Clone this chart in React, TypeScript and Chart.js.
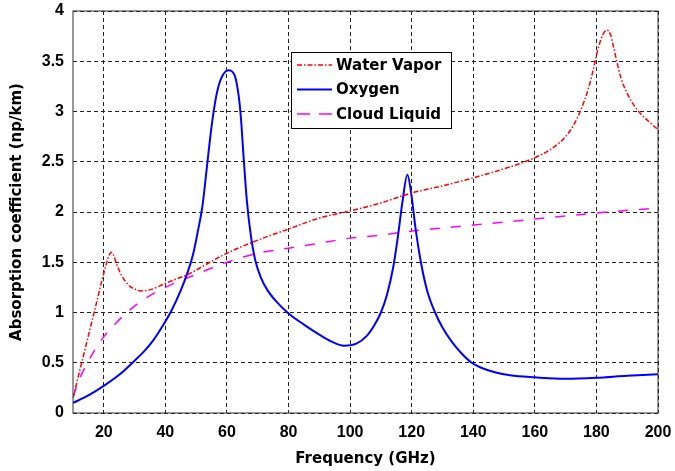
import React, { useEffect, useRef } from "react";
import { Chart, registerables } from "chart.js";

Chart.register(...registerables);

// ---- data ----
const xTicks = [20, 40, 60, 80, 100, 120, 140, 160, 180, 200];

const wvFreq = [10, 12.5, 15, 17.5, 19.5, 20.8, 21.6, 22.4, 23.2, 24.2, 25.4, 27, 28.5, 30, 32, 35, 40, 48, 55, 60, 70, 80, 90, 100, 110, 120, 130, 140, 150, 155, 160, 165, 168, 170, 172.5, 175, 177.5, 179, 180.5, 182, 183.4, 184.5, 185.5, 186.6, 188, 190, 192, 194, 197, 200];
const wvVals = [0.15, 0.46, 0.77, 1.08, 1.33, 1.48, 1.56, 1.6, 1.57, 1.48, 1.39, 1.31, 1.26, 1.235, 1.215, 1.225, 1.29, 1.39, 1.51, 1.59, 1.72, 1.83, 1.94, 2.01, 2.09, 2.19, 2.26, 2.34, 2.43, 2.48, 2.54, 2.62, 2.69, 2.75, 2.86, 3.02, 3.24, 3.42, 3.62, 3.76, 3.81, 3.77, 3.65, 3.5, 3.33, 3.18, 3.07, 2.99, 2.9, 2.82];

const oxFreq = [10, 15, 20, 25, 30, 33, 36, 39, 42, 45, 47, 49, 50.5, 52, 53.5, 55, 56.5, 58, 60.5, 62.5, 63.7, 64.5, 65.4, 66.5, 67.7, 69.2, 71, 73, 76, 80, 85, 90, 94, 98, 102, 105.5, 108, 110, 112, 114, 115.5, 117, 118.6, 120, 121.2, 123, 125, 127.6, 130, 133, 136, 139.5, 143, 147, 152, 160, 170, 180, 190, 200];
const oxVals = [0.1, 0.175, 0.27, 0.38, 0.52, 0.61, 0.72, 0.86, 1.02, 1.22, 1.38, 1.58, 1.8, 2.05, 2.45, 2.85, 3.15, 3.32, 3.41, 3.36, 3.18, 2.95, 2.55, 2.1, 1.78, 1.52, 1.35, 1.23, 1.11, 0.99, 0.88, 0.78, 0.71, 0.67, 0.69, 0.77, 0.88, 1.0, 1.18, 1.45, 1.75, 2.1, 2.37, 2.15, 1.85, 1.5, 1.22, 1.0, 0.85, 0.71, 0.6, 0.5, 0.445, 0.405, 0.375, 0.355, 0.34, 0.35, 0.37, 0.385];

const clFreq = [10, 12, 14.7, 18.8, 23.2, 27.5, 32, 40, 50, 60, 70, 80, 90, 100, 110, 120, 140, 160, 180, 200];
const clVals = [0.16, 0.33, 0.5, 0.71, 0.87, 1.0, 1.11, 1.25, 1.38, 1.5, 1.59, 1.64, 1.69, 1.74, 1.77, 1.81, 1.87, 1.93, 1.99, 2.04];

const seriesNames = ["Water Vapor", "Oxygen", "Cloud Liquid"];
const seriesColors = ["#ff0000", "#0000ff", "#ff00ff"];
const seriesDashes = [[5, 2, 1.5, 2], [], [10, 11]];
const seriesWidths = [1.5, 2, 1.5];

const toPoints = (xs: number[], ys: number[]) => xs.map((x, i) => ({ x, y: ys[i] }));

const boxLegendPlugin = {
  id: "boxLegend",
  afterDraw(chart: any) {
    const { ctx, chartArea: a } = chart;
    ctx.save();
    // plot box
    ctx.setLineDash([]);
    ctx.strokeStyle = "#333";
    ctx.lineWidth = 1;
    ctx.strokeRect(a.left, a.top, a.right - a.left, a.bottom - a.top);
    // legend
    const lx = 291.5, ly = 52.5, lw = 160, lh = 76;
    ctx.fillStyle = "#fff";
    ctx.fillRect(lx, ly, lw, lh);
    ctx.strokeStyle = "#000";
    ctx.lineWidth = 1;
    ctx.strokeRect(lx, ly, lw, lh);
    ctx.font = "bold 15px 'DejaVu Sans'";
    ctx.textBaseline = "middle";
    ctx.textAlign = "left";
    seriesNames.forEach((name, i) => {
      const y = 65 + i * 24.5;
      ctx.beginPath();
      ctx.setLineDash(i === 2 ? [13, 9] : seriesDashes[i]);
      ctx.strokeStyle = seriesColors[i];
      ctx.lineWidth = seriesWidths[i];
      ctx.moveTo(297, y);
      ctx.lineTo(332, y);
      ctx.stroke();
      ctx.setLineDash([]);
      ctx.fillStyle = "#000";
      ctx.fillText(name, 336, y + 1);
    });
    ctx.restore();
  },
};

export default function App() {
  const ref = useRef<HTMLCanvasElement>(null);
  useEffect(() => {
    if (!ref.current) return;
    const tickFont = { family: "'Liberation Sans', Arial, sans-serif", size: 16, weight: "bold" as const };
    const titleFont = { family: "'DejaVu Sans', sans-serif", size: 15, weight: "bold" as const };
    const data = [toPoints(wvFreq, wvVals), toPoints(oxFreq, oxVals), toPoints(clFreq, clVals)];
    const chart = new Chart(ref.current, {
      type: "line",
      data: {
        datasets: seriesNames.map((name, i) => ({
          label: name,
          data: data[i],
          borderColor: seriesColors[i],
          borderWidth: seriesWidths[i],
          borderDash: seriesDashes[i],
          pointRadius: 0,
          fill: false,
          cubicInterpolationMode: "monotone" as const,
        })),
      },
      plugins: [boxLegendPlugin],
      options: {
        animation: false,
        responsive: false,
        layout: { padding: { top: 11, right: 17, bottom: 0, left: 0 } },
        plugins: { legend: { display: false }, tooltip: { enabled: false } },
        scales: {
          x: {
            type: "linear",
            min: 10,
            max: 200,
            afterBuildTicks: (scale: any) => {
              scale.ticks = xTicks.map((v) => ({ value: v }));
            },
            afterFit: (scale: any) => {
              scale.height = 58;
              scale.paddingLeft = 0;
              scale.paddingRight = 0;
            },
            grid: { color: "#222", lineWidth: 1, drawTicks: false },
            border: { display: false, dash: [4, 3] },
            ticks: { font: tickFont, color: "#000", padding: 10, maxRotation: 0, autoSkip: false },
            title: { display: true, text: "Frequency (GHz)", font: titleFont, color: "#000", padding: { top: 3, bottom: 3 } },
          },
          y: {
            type: "linear",
            min: 0,
            max: 4,
            afterFit: (scale: any) => {
              scale.width = 73;
              scale.paddingTop = 0;
              scale.paddingBottom = 0;
            },
            grid: { color: "#222", lineWidth: 1, drawTicks: false },
            border: { display: false, dash: [4, 3] },
            ticks: {
              stepSize: 0.5,
              font: tickFont,
              color: "#000",
              padding: 9,
              callback: (v: any) => String(Number(v)),
            },
            title: { display: true, text: "Absorption coefficient (np/km)", font: titleFont, color: "#000", padding: { top: 8, bottom: 8 } },
          },
        },
      },
    });
    return () => chart.destroy();
  }, []);
  return (
    <div style={{ position: "absolute", left: 0, top: 0, width: 675, height: 471, background: "#fff" }}>
      <canvas ref={ref} width={675} height={471} />
    </div>
  );
}
